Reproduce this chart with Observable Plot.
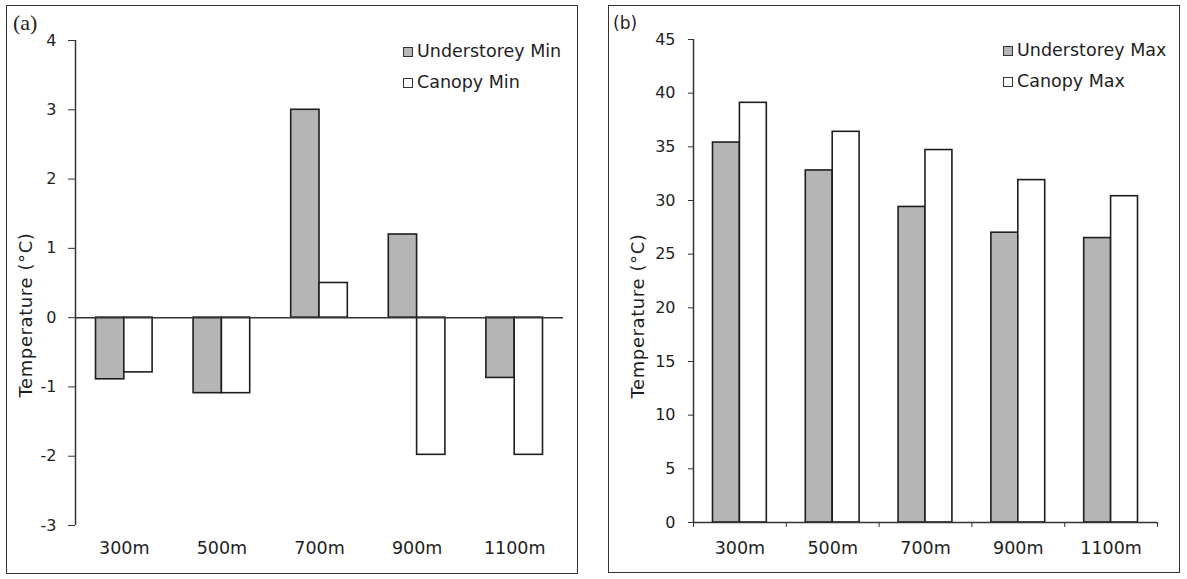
<!DOCTYPE html>
<html><head><meta charset="utf-8">
<script src="https://cdn.jsdelivr.net/npm/d3@7"></script>
<script src="https://cdn.jsdelivr.net/npm/@observablehq/plot@0.6"></script>
<style>
body{margin:0;background:#fff;width:1187px;height:579px;position:relative;overflow:hidden;font-family:"DejaVu Sans",Verdana,sans-serif;color:#1e1e1e}
.box{position:absolute;border:1.5px solid #333;box-sizing:border-box}
.plot{position:absolute;top:0}
.ytitle{position:absolute;font-size:18px;letter-spacing:0.6px;white-space:nowrap;transform:translate(-50%,-50%) rotate(-90deg)}
.legend{position:absolute;font-size:17.5px;line-height:31px}
.legend div{display:flex;align-items:center;white-space:nowrap}
.sw{display:inline-block;width:8px;height:8px;border:1.5px solid #333;margin-right:4px}
.tag{position:absolute}
</style></head><body>
<div class="box" style="left:6px;top:5px;width:572px;height:569px"></div>
<div class="box" style="left:608px;top:5px;width:572px;height:568px"></div>
<div id="pa" class="plot" style="left:0px"></div>
<div id="pb" class="plot" style="left:590px"></div>
<div class="tag" style="left:13px;top:10px;font-family:'Liberation Serif',serif;font-size:22px">(a)</div>
<div class="tag" style="left:613px;top:13px;font-size:17px">(b)</div>
<div class="ytitle" style="left:25px;top:315px">Temperature (°C)</div>
<div class="ytitle" style="left:637px;top:316px">Temperature (°C)</div>
<div id="la" class="legend" style="left:403px;top:36px"></div>
<div id="lb" class="legend" style="left:1003px;top:35px"></div>
<script>
const categories = ["300m","500m","700m","900m","1100m"];
const understoreyMin = [-0.89,-1.09,3.0,1.2,-0.87];
const canopyMin = [-0.79,-1.09,0.5,-1.98,-1.98];
const understoreyMax = [35.4,32.8,29.4,27.0,26.5];
const canopyMax = [39.1,36.4,34.7,31.9,30.4];
const minTicks = [-3,-2,-1,0,1,2,3,4];
const maxTicks = [0,5,10,15,20,25,30,35,40,45];
const seriesA = ["Understorey Min","Canopy Min"];
const seriesB = ["Understorey Max","Canopy Max"];

const GRAY = "#b5b5b5", INK = "#1e1e1e", AX = "#333";
const BW = 0.29;
const idx = d3.range(categories.length);
const bounds = d3.range(categories.length + 1).map(k => k - 0.5);

function rows(u, c) {
  return categories.flatMap((cat, i) => [
    {cat, i, s: 0, v: u[i]},
    {cat, i, s: 1, v: c[i]}
  ]);
}

function panel(o) {
  const data = rows(o.u, o.c);
  const marks = [
    Plot.rect(data, {
      x1: d => d.s === 0 ? d.i - BW : d.i,
      x2: d => d.s === 0 ? d.i : d.i + BW,
      y1: 0, y2: "v",
      fill: d => d.s === 0 ? GRAY : "#fff",
      stroke: INK, strokeWidth: 1.6
    }),
    Plot.ruleX([-0.5], {stroke: AX, strokeWidth: 1.5}),
    Plot.ruleY([0], {stroke: AX, strokeWidth: 1.5}),
    Plot.axisY({ticks: o.yTicks, tickSize: o.ytick, tickPadding: o.ypad, tickFormat: d => String(d), label: null, stroke: AX}),
    Plot.axisX({ticks: idx, tickFormat: i => categories[i], tickSize: 0, tickPadding: o.xpad, label: null, fontSize: 17.5})
  ];
  if (o.boundaryTicks) marks.push(Plot.axisX({ticks: bounds, tickFormat: () => "", tickSize: 5, label: null, stroke: AX}));
  return Plot.plot({
    width: o.width, height: 579,
    marginLeft: o.ml, marginRight: o.mr, marginTop: o.mt, marginBottom: o.mb,
    x: {type: "linear", domain: [-0.5, categories.length - 0.5]},
    y: {domain: o.yDomain},
    style: {fontFamily: "'DejaVu Sans', Verdana, sans-serif", fontSize: "16px", color: "#1e1e1e", background: "transparent", overflow: "visible"},
    marks
  });
}

document.getElementById("pa").append(panel({
  u: understoreyMin, c: canopyMin, yDomain: [-3, 4], yTicks: minTicks,
  width: 590, ml: 75, mr: 27, mt: 40, mb: 54, ytick: 7, ypad: 12, xpad: 16, boundaryTicks: false
}));
document.getElementById("pb").append(panel({
  u: understoreyMax, c: canopyMax, yDomain: [0, 45], yTicks: maxTicks,
  width: 597, ml: 103, mr: 30, mt: 39, mb: 57, ytick: 5, ypad: 13, xpad: 19, boundaryTicks: true
}));

function legend(el, names) {
  names.forEach((n, k) => {
    const row = document.createElement("div");
    const sw = document.createElement("span");
    sw.className = "sw";
    sw.style.background = k === 0 ? GRAY : "#fff";
    row.append(sw, document.createTextNode(n));
    el.append(row);
  });
}
legend(document.getElementById("la"), seriesA);
legend(document.getElementById("lb"), seriesB);
</script>
</body></html>
